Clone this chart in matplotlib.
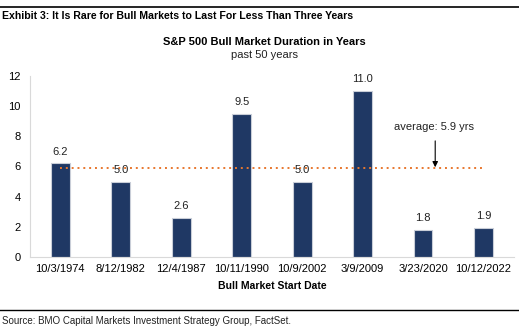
import matplotlib
matplotlib.use("Agg")
import matplotlib.pyplot as plt
import numpy as np

plt.rcParams['font.family'] = ['Liberation Sans', 'DejaVu Sans']

# Bull market start dates and their durations (years)
start_dates = ['10/3/1974', '8/12/1982', '12/4/1987', '10/11/1990',
               '10/9/2002', '3/9/2009', '3/23/2020', '10/12/2022']
durations = [6.2, 5.0, 2.6, 9.5, 5.0, 11.0, 1.8, 1.9]
average = 5.9
y_ticks = [0, 2, 4, 6, 8, 10, 12]

navy = '#1F3864'
orange = '#E8772E'

fig = plt.figure(figsize=(5.19, 3.31), dpi=100)
ax = fig.add_axes([0.058, 0.224, 0.932, 0.546])

x = np.arange(len(start_dates))
ax.bar(x, durations, width=0.31, color=navy, edgecolor='#C9CED8', linewidth=0.8, zorder=2)

for xi, v in zip(x, durations):
    ax.text(xi, v + 0.45, f'{v:.1f}', ha='center', va='bottom', fontsize=8, color='#222222', zorder=4)

# average line across the bars, with a callout arrow
ax.plot([x[0], x[-1]], [average, average], linestyle=(0, (1, 2)), color=orange, linewidth=1.4, zorder=3)
ax.text(6.18, 8.3, f'average: {average} yrs', ha='center', va='bottom', fontsize=8, color='#222222')
ax.annotate('', xy=(6.2, average + 0.05), xytext=(6.2, 7.7),
            arrowprops=dict(arrowstyle='-|>', color='black', lw=0.8, mutation_scale=8,
                            shrinkA=0, shrinkB=0))

ax.set_xlim(-0.5, 7.5)
ax.set_ylim(0, 12)
ax.set_yticks(y_ticks)
ax.set_yticklabels([str(t) for t in y_ticks], fontsize=8)
ax.set_xticks(x)
ax.set_xticklabels(start_dates, fontsize=8)
ax.tick_params(length=0, pad=5)
ax.tick_params(axis='y', pad=7)
for side in ['top', 'right']:
    ax.spines[side].set_visible(False)
for side in ['left', 'bottom']:
    ax.spines[side].set_color('#D9D9D9')
    ax.spines[side].set_linewidth(0.8)
ax.set_xlabel('Bull Market Start Date', fontsize=7.5, fontweight='bold', labelpad=5)

# header and footer
fig.add_artist(plt.Line2D([0, 1], [1 - 7 / 331, 1 - 7 / 331], color='black', linewidth=1.2))
fig.text(0.004, 1 - 16 / 331, 'Exhibit 3: It Is Rare for Bull Markets to Last For Less Than Three Years',
         fontsize=7.6, fontweight='bold', va='center', ha='left')
fig.text(0.51, 1 - 42 / 331, 'S&P 500 Bull Market Duration in Years', fontsize=8,
         fontweight='bold', ha='center', va='center')
fig.text(0.51, 1 - 55 / 331, 'past 50 years', fontsize=8, ha='center', va='center', color='#222222')
fig.add_artist(plt.Line2D([0, 1], [1 - 310 / 331, 1 - 310 / 331], color='black', linewidth=1.0))
fig.text(0.004, 1 - 321 / 331, 'Source: BMO Capital Markets Investment Strategy Group, FactSet.',
         fontsize=7, ha='left', va='center', color='#222222')

fig.savefig('out.png', dpi=100)
